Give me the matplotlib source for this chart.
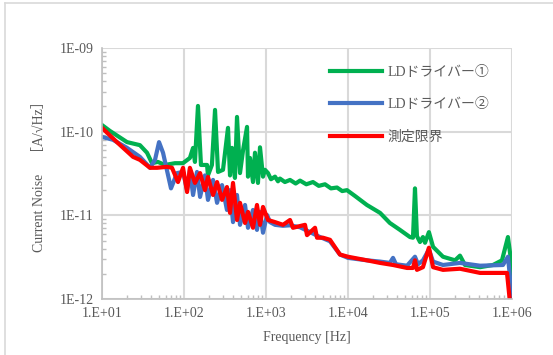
import numpy as np
import matplotlib
matplotlib.use('Agg')
import matplotlib.pyplot as plt
from matplotlib.ticker import LogLocator, NullFormatter, FixedLocator
from matplotlib.lines import Line2D

plt.rcParams['font.family'] = ['Liberation Serif', 'Noto Sans CJK JP', 'DejaVu Sans']

# LDドライバー① (green): frequency [Hz], noise [pA/√Hz]
f_ld1 = [10, 12.5, 20.2, 29, 35.4, 40.7, 48, 58.7, 77.6, 97, 118, 129, 136, 148, 161,
         191, 196, 219, 239, 260, 299, 344, 364, 385, 418, 443, 482, 525, 587, 603,
         638, 694, 734, 798, 845, 919, 972, 1057, 1150, 1288, 1400, 1480, 1700, 1963,
         2300, 2600, 3100, 3740, 4400, 5243, 6200, 7340, 8500, 9720, 12200, 17000,
         24600, 32400, 43000, 57000, 62000, 65600, 69300,
         75500, 82000, 87000, 97000, 109000, 144000, 202000, 232000, 267000, 408000,
         586000, 755000, 892000, 973000, 1000000]
n_ld1 = [120, 102, 75, 69, 56, 42, 43.5, 40, 42, 42, 48.5, 64, 43.5, 203, 40,
         40, 30, 40, 182, 33, 35, 111, 30, 64, 28, 150, 32, 60, 114, 29,
         48.5, 25, 56, 24.4, 65, 29, 35, 32, 27, 29, 25.5, 27.5, 25, 26.5,
         24, 26, 23.5, 25, 22.5, 23.5, 21, 21.5, 19.5, 20, 17, 13.3,
         10.7, 8.1, 6.7, 5.5, 5.4, 21, 5.65,
         4.8, 5.5, 4.7, 6.3, 4.2, 3.2, 2.9, 3.3, 2.55, 2.4,
         2.55, 2.9, 5.5, 2.9, 1.06]

# LDドライバー② (blue)
f_ld2 = [10, 13.6, 20.2, 29, 38.5, 44.3, 49.6, 55.5, 69.4, 82.2, 97.3, 109, 118, 129,
         144, 157, 180, 196, 226, 253, 291, 334, 364, 396, 443, 482, 555, 603, 694,
         776, 845, 919, 1030, 1119, 1288, 1612, 1963, 2600, 3442, 4560, 6030, 7980,
         10000, 17000, 24600, 32400, 35400, 38500, 52500, 65600, 71400, 82000, 97000,
         109000, 144000, 232000, 408000, 776000, 892000, 1000000]
n_ld2 = [86.5, 80, 64, 50, 37, 46, 75, 56, 21, 32, 33, 20, 35, 17.5,
         33, 16.6, 30, 15.3, 26.5, 14.1, 23, 11.6, 20, 8.3, 17.5, 7.7, 13.3, 7.1, 11.6,
         6.7, 11, 6.2, 10.1, 8.3, 7.7, 7.5, 7.6, 7.2, 6.3, 5.5, 4.9, 3.4,
         3.1, 2.9, 2.8, 2.7, 3.1, 2.6, 2.5, 3.2, 2.6, 2.9, 3.9,
         2.8, 2.55, 2.7, 2.5, 2.55, 3.2, 1.06]

# 測定限界 (red)
f_lim = [10, 15.2, 23.9, 29, 38.5, 46.9, 62.1, 71.4, 84.5, 97.3, 109, 118, 136, 157,
         180, 196, 226, 253, 291, 334, 364, 396, 443, 482, 555, 603, 694, 776, 845,
         919, 1057, 1288, 1612, 1963, 2134, 2990, 3163, 3961, 4190, 4958, 6030, 7980,
         10000, 17000, 24600, 35400, 52500, 62000, 65600, 69300, 82000, 97000, 109000,
         144000, 232000, 408000, 869000, 946000]
n_lim = [111, 75, 50, 46, 37, 37, 38, 37, 25, 37, 19, 37, 24.4, 32,
         20, 28.8, 17.5, 25, 15.3, 21.8, 10.7, 24.4, 8.8, 14.1, 8.1, 11, 7.1, 13.3, 7.7,
         12.6, 8.8, 8.3, 7.7, 8.8, 7.1, 7.7, 5.8, 7.1, 5.4, 5.4, 5.1, 3.4,
         3.2, 2.9, 2.7, 2.55, 2.35, 2.35, 2.9, 2.23, 2.4, 4.1, 2.4,
         2.23, 2.3, 2.05, 2.05, 0.9]

series_labels = ['LDドライバー①', 'LDドライバー②', '測定限界']
xtick_labels = ['1.E+01', '1.E+02', '1.E+03', '1.E+04', '1.E+05', '1.E+06']
ytick_labels = ['1E-12', '1E-11', '1E-10', '1E-09']

txt = '#595959'
grid_c = '#d9d9d9'

fig = plt.figure(figsize=(5.53, 3.55), dpi=100)
ax = fig.add_axes([102/553, 1-299/355, 410/553, 251/355])

lw = 3.0
ax.plot(f_ld1, np.array(n_ld1) * 1e-12, color='#00B050', lw=lw, label=series_labels[0], solid_joinstyle='round')
ax.plot(f_ld2, np.array(n_ld2) * 1e-12, color='#4472C4', lw=lw, label=series_labels[1], solid_joinstyle='round')
ax.plot(f_lim, np.array(n_lim) * 1e-12, color='#FF0000', lw=lw, label=series_labels[2], solid_joinstyle='round')

ax.set_xscale('log')
ax.set_yscale('log')
ax.set_xlim(10, 1e6)
ax.set_ylim(1e-12, 1e-9)

ax.xaxis.set_major_locator(FixedLocator([1e1, 1e2, 1e3, 1e4, 1e5, 1e6]))
ax.set_xticklabels(xtick_labels)
ax.yaxis.set_major_locator(FixedLocator([1e-12, 1e-11, 1e-10, 1e-9]))
ax.set_yticklabels(ytick_labels)
ax.xaxis.set_minor_locator(LogLocator(base=10, subs=np.arange(2, 10), numticks=20))
ax.yaxis.set_minor_locator(LogLocator(base=10, subs=np.arange(2, 10), numticks=20))
ax.xaxis.set_minor_formatter(NullFormatter())
ax.yaxis.set_minor_formatter(NullFormatter())

ax.grid(True, which='major', color=grid_c, lw=1.5)
ax.set_axisbelow(True)
for s in ['top', 'right']:
    ax.spines[s].set_visible(False)
for s in ['left', 'bottom']:
    ax.spines[s].set_color('#bfbfbf')
    ax.spines[s].set_linewidth(1.2)

ax.tick_params(which='major', length=0, pad=6, labelsize=10, labelcolor=txt)
ax.tick_params(which='minor', direction='in', length=3, color='#bfbfbf', width=1)

ax.set_xlabel('Frequency [Hz]', fontsize=10, color=txt, labelpad=8)
ax.set_ylabel('Current Noise　［A/√Hz］', fontsize=10, color=txt, labelpad=10)

leg = ax.legend(loc='upper left', bbox_to_anchor=(0.555, 0.93), frameon=False,
                fontsize=10, handlelength=3.8, handletextpad=0.35, labelspacing=1.4,
                borderpad=0, borderaxespad=0)
for t in leg.get_texts():
    t.set_color(txt)

# chart border (left and top edges visible)
fig.add_artist(Line2D([5/553, 5/553], [0, 1-3/355], transform=fig.transFigure, color=grid_c, lw=1.2))
fig.add_artist(Line2D([5/553, 1], [1-3/355, 1-3/355], transform=fig.transFigure, color=grid_c, lw=1.2))

fig.savefig('out.png', dpi=100)
